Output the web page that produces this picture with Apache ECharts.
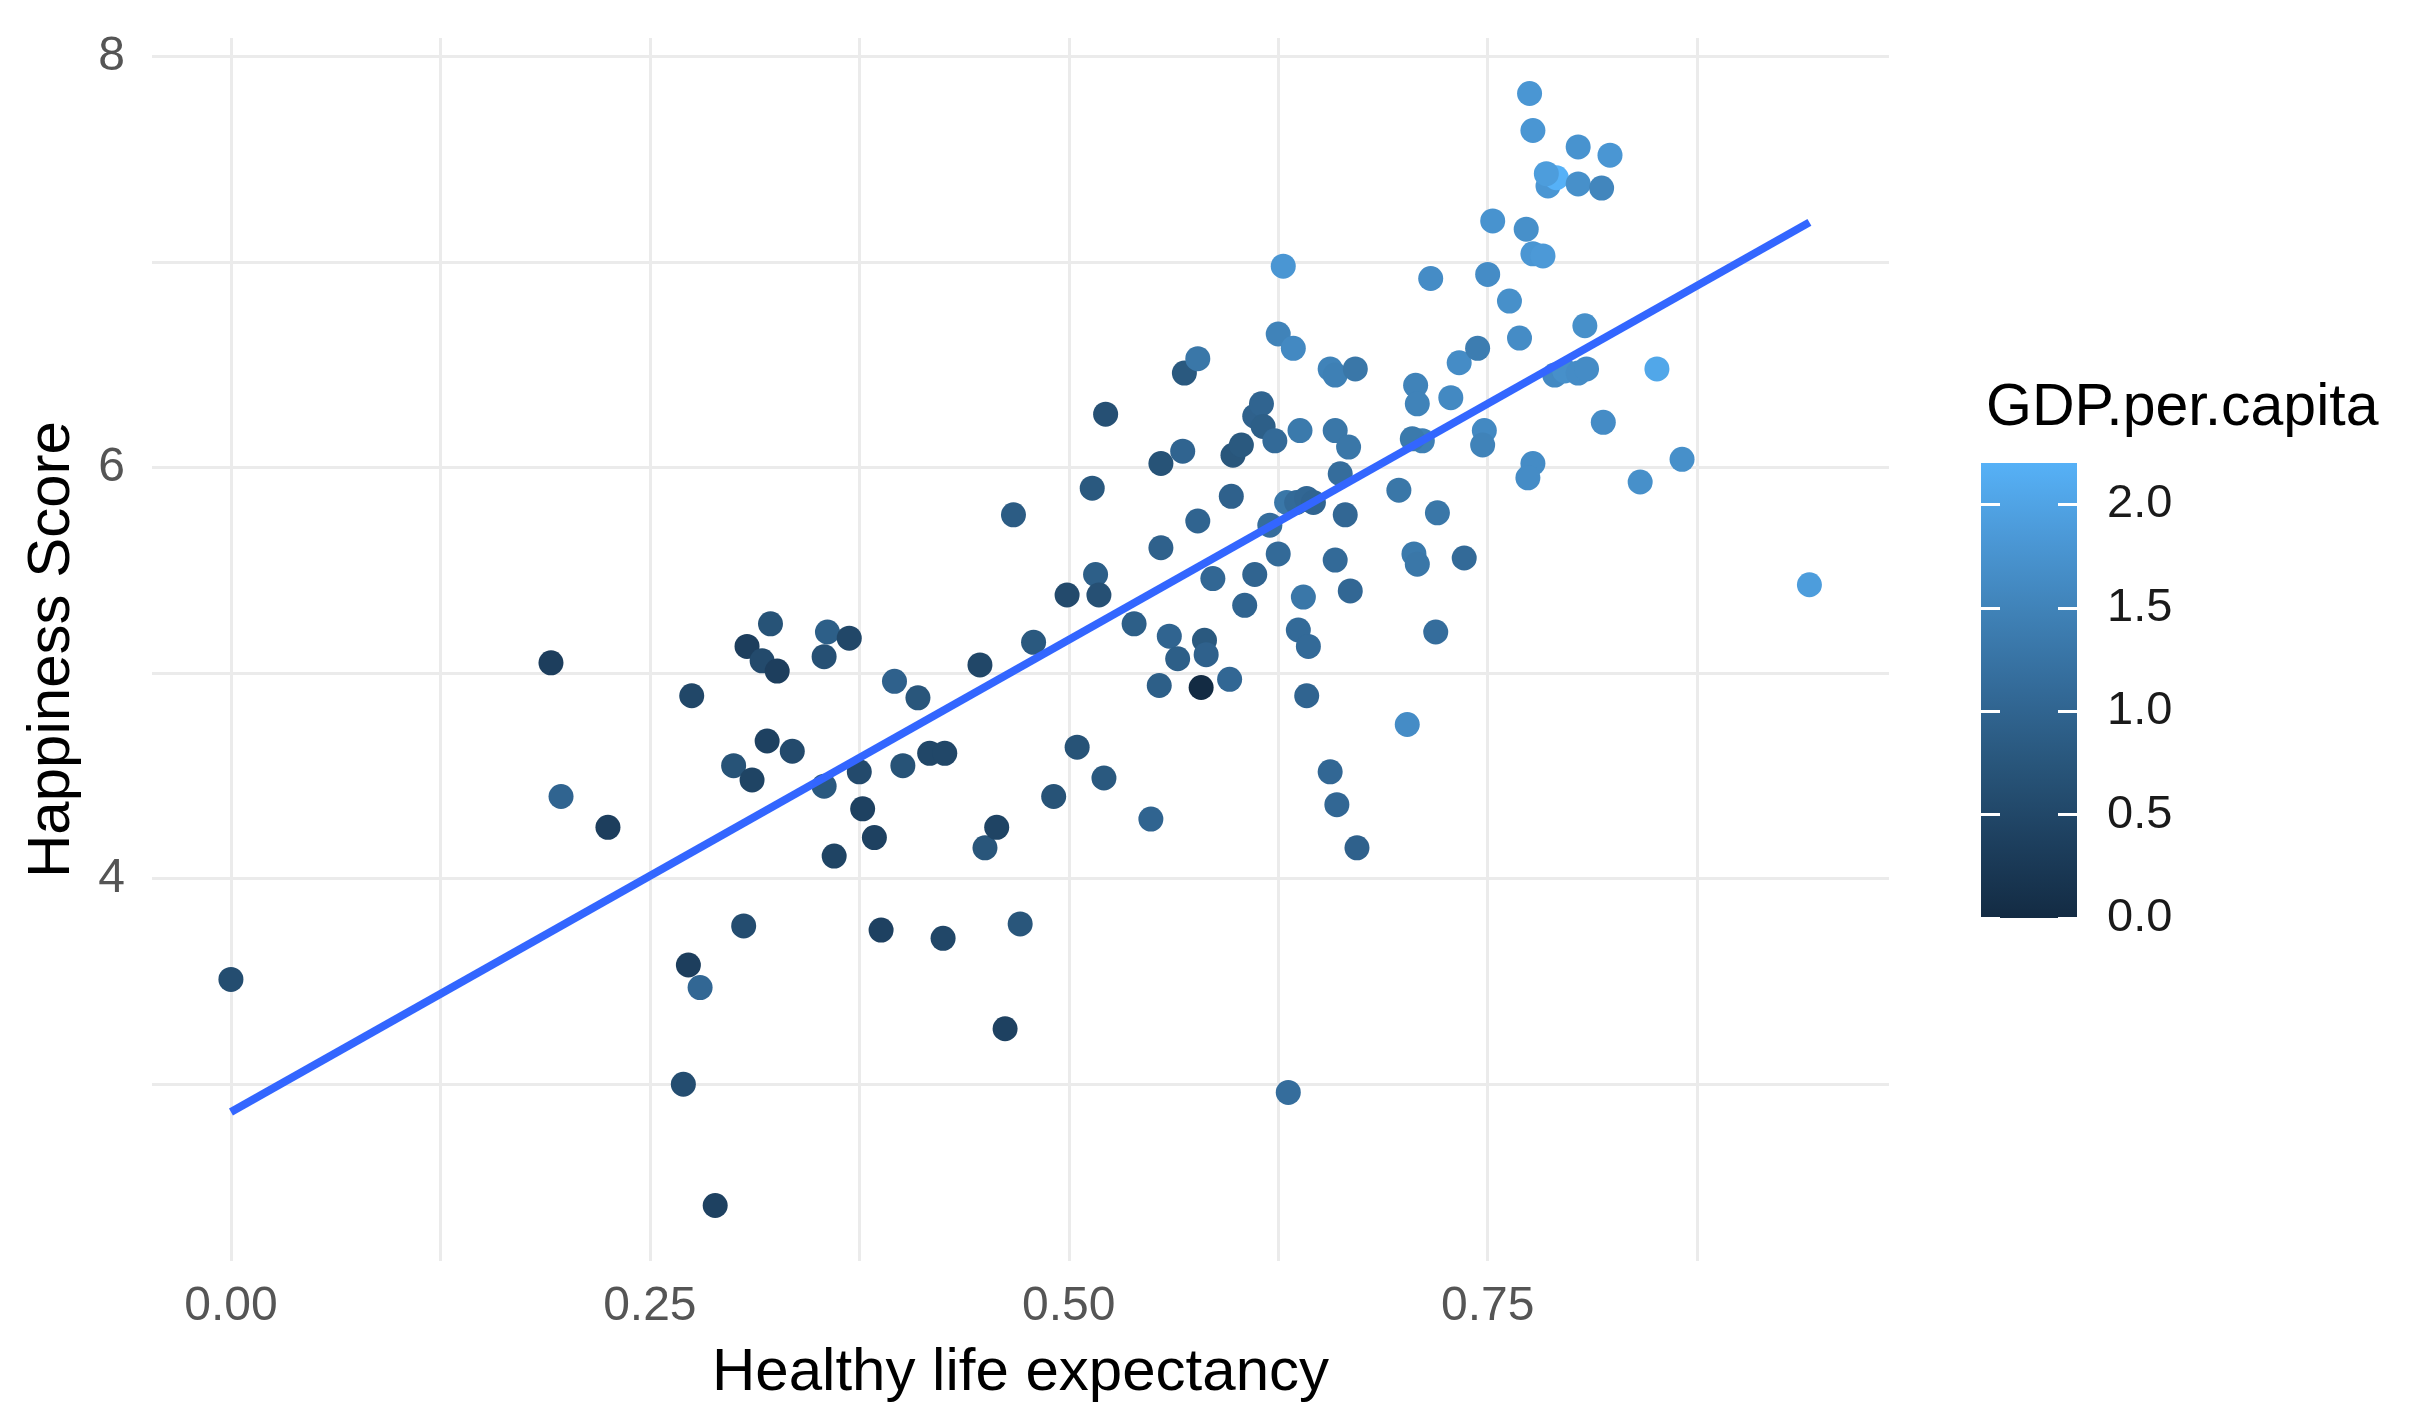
<!DOCTYPE html>
<html>
<head>
<meta charset="utf-8">
<title>Happiness Score vs Healthy life expectancy</title>
<script src="https://cdn.jsdelivr.net/npm/echarts@6/dist/echarts.min.js"></script>
<style>
html, body { margin: 0; padding: 0; background: #fff; }
#main { width: 2414px; height: 1428px; }
</style>
</head>
<body>
<div id="main"></div>
<script>
// values, one entry per country
var lifeExp = [
	0.000, 0.191, 0.197, 0.225, 0.275, 0.273, 0.280, 0.270, 0.289, 0.308,
	0.322, 0.317, 0.326, 0.300, 0.311, 0.320, 0.335, 0.306, 0.354, 0.356,
	0.369, 0.354, 0.375, 0.377, 0.360, 0.384, 0.388, 0.396, 0.410, 0.401,
	0.417, 0.426, 0.425, 0.447, 0.450, 0.457, 0.462, 0.471, 0.467, 0.479,
	0.491, 0.499, 0.505, 0.514, 0.516, 0.518, 0.521, 0.522, 0.539, 0.549,
	0.555, 0.555, 0.554, 0.560, 0.565, 0.579, 0.581, 0.582, 0.596, 0.568,
	0.569, 0.577, 0.577, 0.586, 0.597, 0.598, 0.603, 0.611, 0.615, 0.616,
	0.623, 0.605, 0.611, 0.620, 0.625, 0.628, 0.625, 0.634, 0.630, 0.636,
	0.642, 0.646, 0.638, 0.640, 0.637, 0.643, 0.642, 0.631, 0.656, 0.660,
	0.672, 0.656, 0.659, 0.671, 0.659, 0.659, 0.662, 0.667, 0.665, 0.668,
	0.697, 0.702, 0.706, 0.708, 0.707, 0.708, 0.716, 0.711, 0.720, 0.719,
	0.728, 0.736, 0.733, 0.744, 0.750, 0.753, 0.748, 0.747, 0.763, 0.773,
	0.769, 0.775, 0.777, 0.777, 0.783, 0.777, 0.774, 0.786, 0.791, 0.785,
	0.804, 0.804, 0.818, 0.823, 0.790, 0.796, 0.804, 0.809, 0.808, 0.819,
	0.841, 0.851, 0.866, 0.942, 0.705
];
var happiness = [
	3.51, 5.05, 4.40, 4.25, 4.89, 3.58, 3.47, 3.00, 2.41, 5.13,
	5.24, 5.06, 5.01, 4.55, 4.48, 4.67, 4.62, 3.77, 5.08, 5.20,
	5.17, 4.45, 4.52, 4.34, 4.11, 4.20, 3.75, 4.96, 4.88, 4.55,
	4.61, 4.61, 3.71, 5.04, 4.15, 4.25, 3.27, 3.78, 5.77, 5.15,
	4.40, 5.38, 4.64, 5.90, 5.48, 5.38, 4.49, 6.26, 5.24, 4.29,
	5.61, 6.02, 4.94, 5.18, 5.07, 4.93, 5.16, 5.09, 4.97, 6.08,
	6.46, 6.53, 5.74, 5.46, 5.86, 6.06, 6.11, 6.25, 6.31, 6.20,
	6.13, 5.33, 5.48, 5.72, 5.58, 6.98, 6.65, 6.58, 5.83, 5.83,
	5.85, 5.83, 6.18, 5.37, 5.21, 5.13, 4.89, 2.96, 4.52, 4.36,
	4.15, 6.48, 6.45, 6.48, 6.18, 5.55, 5.97, 6.10, 5.77, 5.40,
	5.89, 4.75, 5.58, 5.53, 6.40, 6.31, 6.92, 6.13, 5.78, 5.20,
	6.34, 5.56, 6.51, 6.58, 6.94, 7.20, 6.18, 6.11, 6.81, 7.16,
	6.63, 7.82, 7.64, 7.04, 7.03, 6.02, 5.95, 7.37, 7.41, 7.43,
	7.56, 7.38, 7.36, 7.52, 6.45, 6.47, 6.46, 6.48, 6.69, 6.22,
	5.93, 6.48, 6.04, 5.43, 6.14
];
var gdp = [
	0.60, 0.35, 1.00, 0.35, 0.50, 0.35, 1.05, 0.60, 0.40, 0.35,
	0.70, 0.55, 0.35, 0.70, 0.45, 0.40, 0.55, 0.60, 0.65, 0.90,
	0.50, 0.80, 0.55, 0.40, 0.45, 0.40, 0.40, 0.95, 0.75, 0.70,
	0.50, 0.50, 0.50, 0.50, 0.75, 0.45, 0.40, 0.75, 0.85, 0.80,
	0.70, 0.55, 0.70, 0.80, 0.90, 0.65, 0.80, 0.65, 0.90, 1.00,
	0.95, 0.70, 0.90, 1.00, 0.90, 0.00, 0.80, 0.95, 1.05, 1.00,
	0.80, 1.30, 1.00, 1.05, 0.95, 0.75, 0.80, 0.95, 1.00, 0.90,
	1.10, 1.00, 1.00, 1.15, 1.10, 1.80, 1.50, 1.60, 1.30, 1.10,
	1.05, 1.00, 1.35, 1.30, 1.10, 1.10, 1.00, 1.15, 1.05, 1.05,
	0.95, 1.50, 1.45, 1.30, 1.30, 1.10, 1.15, 1.30, 1.05, 1.05,
	1.30, 1.65, 1.35, 1.30, 1.50, 1.50, 1.65, 1.45, 1.30, 1.15,
	1.60, 1.10, 1.65, 1.40, 1.65, 1.75, 1.60, 1.50, 1.70, 1.70,
	1.65, 1.80, 1.80, 1.80, 1.85, 1.65, 1.65, 1.80, 2.20, 1.90,
	1.75, 1.70, 1.55, 1.80, 1.60, 1.70, 1.65, 1.65, 1.70, 1.65,
	1.70, 2.05, 1.70, 1.90, 1.35
];

// fitted lm line, end points
var fitX = [0, 0.942];
var fitY = [2.865, 7.193];

// axis ticks and grid lines
var xLabels = [0, 0.25, 0.5, 0.75];
var xGrid = [0, 0.125, 0.25, 0.375, 0.5, 0.625, 0.75, 0.875];
var yLabels = [4, 6, 8];
var yGrid = [3, 4, 5, 6, 7, 8];
var gdpLabels = [0, 0.5, 1, 1.5, 2];
var gdpMax = 2.2;

// default ggplot continuous scale, low to high
var gdpColors = ['#132B43', '#1D3F5E', '#28557A', '#336A98', '#3F81B6', '#4B98D6', '#56B1F7'];

var FONT = '"Liberation Sans", Arial, Helvetica, sans-serif';

var points = [];
for (var i = 0; i < lifeExp.length; i++) {
	points.push([lifeExp[i], happiness[i], gdp[i]]);
}
var fitLine = [];
for (var j = 0; j < fitX.length; j++) {
	fitLine.push([fitX[j], fitY[j]]);
}

var barStops = [];
for (var k = 0; k < gdpColors.length; k++) {
	barStops.push({ offset: k / (gdpColors.length - 1), color: gdpColors[k] });
}

var myChart = echarts.init(document.getElementById('main'), null, { renderer: 'canvas' });

var gridLine = { show: true, lineStyle: { color: '#ebebeb', width: 3 } };

var option = {
	backgroundColor: '#ffffff',
	animation: false,
	textStyle: { fontFamily: FONT },
	title: {
		text: 'GDP.per.capita',
		left: 1981,
		top: 374,
		textStyle: { fontFamily: FONT, fontSize: 59, fontWeight: 'normal', color: '#000' }
	},
	grid: [
		{ left: 152, right: 525, top: 38, bottom: 167, outerBoundsMode: 'none' },
		// colour bar
		{ left: 1981, top: 463, width: 96, height: 455, outerBoundsMode: 'none' }
	],
	xAxis: [
		{
			type: 'value',
			gridIndex: 0,
			min: -0.0471,
			max: 0.9895,
			axisLine: { show: false },
			axisTick: { show: false, customValues: xGrid },
			splitLine: gridLine,
			axisLabel: {
				customValues: xLabels,
				margin: 22,
				fontSize: 48,
				color: '#555',
				fontFamily: FONT,
				formatter: function(v) { return v.toFixed(2); }
			},
			name: 'Healthy life expectancy',
			nameLocation: 'middle',
			nameGap: 82,
			nameTextStyle: { fontSize: 60, color: '#000', fontFamily: FONT }
		},
		{
			type: 'category',
			gridIndex: 1,
			data: ['GDP.per.capita'],
			show: false
		}
	],
	yAxis: [
		{
			type: 'value',
			gridIndex: 0,
			min: 2.14,
			max: 8.09,
			axisLine: { show: false },
			axisTick: { show: false, customValues: yGrid },
			splitLine: gridLine,
			axisLabel: {
				customValues: yLabels,
				margin: 27,
				fontSize: 48,
				color: '#555',
				fontFamily: FONT
			},
			name: 'Happiness Score',
			nameLocation: 'middle',
			nameRotate: 90,
			nameGap: 70,
			nameTextStyle: { fontSize: 60, color: '#000', fontFamily: FONT }
		},
		{
			// labels + white ticks on the right of the bar
			type: 'value',
			gridIndex: 1,
			position: 'right',
			min: 0,
			max: gdpMax,
			z: 10,
			axisLine: { show: false },
			splitLine: { show: false },
			axisTick: {
				show: true, inside: true, length: 19, customValues: gdpLabels,
				lineStyle: { color: '#ffffff', width: 3 }
			},
			axisLabel: {
				customValues: gdpLabels,
				margin: 30,
				fontSize: 47,
				color: '#1a1a1a',
				fontFamily: FONT,
				formatter: function(v) { return v.toFixed(1); }
			}
		},
		{
			// white ticks on the left of the bar
			type: 'value',
			gridIndex: 1,
			position: 'left',
			min: 0,
			max: gdpMax,
			z: 10,
			axisLine: { show: false },
			splitLine: { show: false },
			axisLabel: { show: false },
			axisTick: {
				show: true, inside: true, length: 19, customValues: gdpLabels,
				lineStyle: { color: '#ffffff', width: 3 }
			}
		}
	],
	visualMap: {
		type: 'continuous',
		show: false,
		seriesIndex: 0,
		dimension: 2,
		min: 0,
		max: gdpMax,
		inRange: { color: gdpColors }
	},
	series: [
		{
			name: 'countries',
			type: 'scatter',
			xAxisIndex: 0,
			yAxisIndex: 0,
			data: points,
			symbolSize: 25,
			itemStyle: { opacity: 1 },
			z: 10,
			silent: true
		},
		{
			name: 'lm',
			type: 'line',
			xAxisIndex: 0,
			yAxisIndex: 0,
			data: fitLine,
			showSymbol: false,
			symbol: 'none',
			z: 12,
			silent: true,
			lineStyle: { color: '#3366FF', width: 8, cap: 'butt' }
		},
		{
			name: 'colourbar',
			type: 'bar',
			xAxisIndex: 1,
			yAxisIndex: 1,
			data: [gdpMax],
			barWidth: '100%',
			silent: true,
			itemStyle: {
				color: new echarts.graphic.LinearGradient(0, 1, 0, 0, barStops)
			}
		}
	]
};

myChart.setOption(option);
</script>
</body>
</html>
